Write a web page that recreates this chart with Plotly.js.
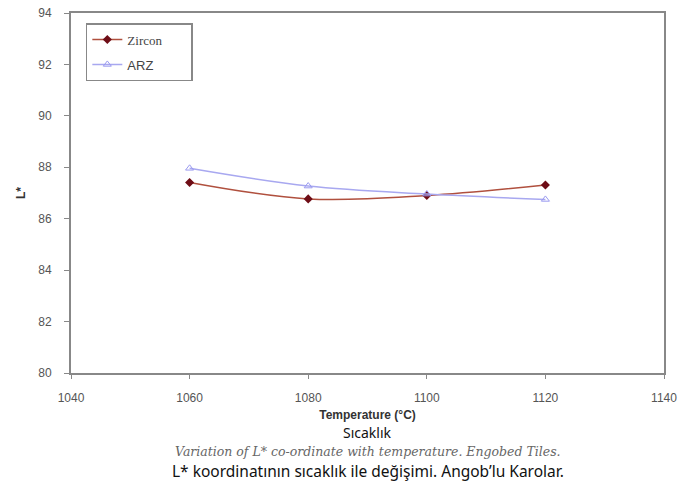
<!DOCTYPE html>
<html><head><meta charset="utf-8">
<script src="https://cdn.plot.ly/plotly-3.0.1.min.js"></script>
<style>body{margin:0;background:#fff}#c{width:687px;height:498px}</style>
</head><body><div id="c"></div>
<script>
const temps = [1060, 1080, 1100, 1120];
const zircon = [87.41, 86.77, 86.9, 87.31];
const arz = [87.96, 87.27, 86.96, 86.75];
const xTicks = [1040, 1060, 1080, 1100, 1120, 1140];
const yTicks = [80, 82, 84, 86, 88, 90, 92, 94];

const traces = [
  {x: temps, y: zircon, name: '<span style="font-family:Liberation Serif">Zircon</span>', mode: 'lines+markers',
   legendgroup: 'a',
   line: {color: '#b0503e', width: 1.5, shape: 'spline'},
   marker: {symbol: 'diamond', size: 7, color: '#6e0d16'}},
  {x: temps, y: arz, name: 'ARZ         ', mode: 'lines+markers',
   legendgroup: 'b',
   line: {color: '#a8a8f0', width: 1.5, shape: 'spline'},
   marker: {symbol: 'triangle-up-open', size: 7, color: '#9a9af0', line: {width: 1}}}
];

const layout = {
  width: 687, height: 498,
  margin: {l: 71, r: 23, t: 13, b: 125},
  paper_bgcolor: '#fff', plot_bgcolor: '#fff',
  font: {family: 'Liberation Sans, Arial', color: '#555', size: 12},
  showlegend: true,
  legend: {x: 0.025, y: 0.972, xanchor: 'left', yanchor: 'top',
    bordercolor: '#888', borderwidth: 1.5, bgcolor: '#fff',
    font: {size: 13, color: '#444'}, tracegroupgap: 5, itemwidth: 30},
  xaxis: {range: [1040, 1140], tickvals: xTicks, ticktext: xTicks.map(String),
    showgrid: false, zeroline: false, showline: true, linecolor: '#888', linewidth: 2,
    mirror: true, ticks: 'outside', ticklen: 4, tickcolor: '#888', ticklabelstandoff: 9,
    title: {text: '<b>Temperature (°C)</b>', font: {size: 12, color: '#333'}, standoff: 6}},
  yaxis: {range: [80, 94], tickvals: yTicks, ticktext: yTicks.map(String),
    showgrid: false, zeroline: false, showline: true, linecolor: '#888', linewidth: 2,
    mirror: true, ticks: 'outside', ticklen: 5, tickcolor: '#888', ticklabelstandoff: 10,
    title: {text: '<b>L*</b>', font: {size: 12, color: '#333'}, standoff: 10}},
  annotations: [
    {text: 'Sıcaklık', xref: 'paper', yref: 'paper', x: 0.5, y: -0.1639, yanchor: 'middle',
     showarrow: false, font: {family: 'Noto Sans, sans-serif', size: 14, color: '#111'}},
    {text: '<i>Variation of L* co-ordinate with temperature. Engobed Tiles.</i>', xref: 'paper', yref: 'paper',
     x: 0.5, y: -0.2167, yanchor: 'middle', showarrow: false,
     font: {family: 'DejaVu Serif, serif', size: 12.5, color: '#666'}},
    {text: 'L* koordinatının sıcaklık ile değişimi. Angob’lu Karolar.', xref: 'paper', yref: 'paper',
     x: 0.5, y: -0.2722, yanchor: 'middle', showarrow: false,
     font: {family: 'Noto Sans, sans-serif', size: 15.5, color: '#111'}}
  ]
};
Plotly.newPlot('c', traces, layout, {displayModeBar: false});
</script></body></html>
